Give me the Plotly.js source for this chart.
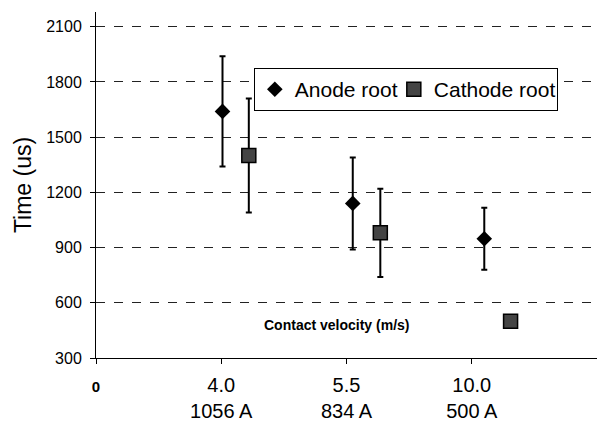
<!DOCTYPE html>
<html>
<head>
<meta charset="utf-8">
<script src="https://cdn.plot.ly/plotly-3.0.1.min.js"></script>
<style>html,body{margin:0;padding:0;background:#fff;}#chart{width:600px;height:431px;}</style>
</head>
<body>
<div id="chart"></div>
<script>
// Data
const anodeX = [1.01, 2.05, 3.10];
const anodeY = [1640, 1140, 948];
const anodeErr = [300, 250, 168];

const cathodeX = [1.22, 2.27, 3.31];
const cathodeY = [1400, 980, 500];
const cathodeErr = [310, 240, 0];

const tickVals = [0, 1, 2, 3];
const tickText = ["<b><span style='font-size:15px'>0</span></b>", "4.0<br>1056 A", "5.5<br>834 A", "10.0<br>500 A"];
const yTicks = [300, 600, 900, 1200, 1500, 1800, 2100];

const noteText = "Contact velocity (m/s)";
const noteX = 1.92, noteY = 480;

const font = "Liberation Sans, Arial, sans-serif";

const traces = [
  {
    x: anodeX, y: anodeY, name: "Anode root", type: "scatter", mode: "markers",
    legendwidth: 94,
    marker: {symbol: "diamond", size: 12, color: "#000"},
    error_y: {type: "data", array: anodeErr, visible: true, color: "#000", thickness: 2, width: 3}
  },
  {
    x: cathodeX, y: cathodeY, name: "Cathode root", type: "scatter", mode: "markers",
    legendwidth: 118,
    marker: {symbol: "square", size: 14, color: "#444", line: {color: "#000", width: 1.5}},
    error_y: {type: "data", array: cathodeErr, visible: true, color: "#000", thickness: 2, width: 3}
  }
];

const layout = {
  width: 600, height: 431,
  margin: {l: 96, r: 3, t: 12, b: 73},
  paper_bgcolor: "#fff", plot_bgcolor: "#fff",
  font: {family: font, color: "#000"},
  showlegend: true,
  legend: {
    orientation: "h", x: 0.315, y: 0.838, xanchor: "left", yanchor: "top",
    bgcolor: "#fff", bordercolor: "#000", borderwidth: 1,
    font: {size: 21, family: font, color: "#000"},
    itemwidth: 30, tracegroupgap: 0,
    entrywidthmode: "pixels"
  },
  xaxis: {
    range: [0, 4], showgrid: false, zeroline: false,
    showline: true, linecolor: "#000", linewidth: 1,
    tickmode: "array", tickvals: tickVals, ticktext: tickText,
    ticks: "outside", ticklen: 5, tickcolor: "#000",
    ticklabelstandoff: 4,
    tickfont: {size: 20, family: font, color: "#000"},
    fixedrange: true
  },
  yaxis: {
    range: [300, 2180], zeroline: false,
    showline: true, linecolor: "#000", linewidth: 1,
    tickmode: "array", tickvals: yTicks,
    ticks: "outside", ticklen: 5, tickcolor: "#000",
    ticklabelstandoff: 5,
    tickfont: {size: 16, family: font, color: "#000"},
    showgrid: true, gridcolor: "#222", griddash: "dash", gridwidth: 1,
    title: {text: "Time (us)", font: {size: 23, family: font, color: "#000"}, standoff: 8},
    fixedrange: true
  },
  annotations: [
    {x: noteX, y: noteY, xref: "x", yref: "y", text: "<b>" + noteText + "</b>", showarrow: false,
     font: {size: 14, family: font, color: "#000"}}
  ]
};

Plotly.newPlot("chart", traces, layout, {displayModeBar: false, staticPlot: true});
</script>
</body>
</html>
